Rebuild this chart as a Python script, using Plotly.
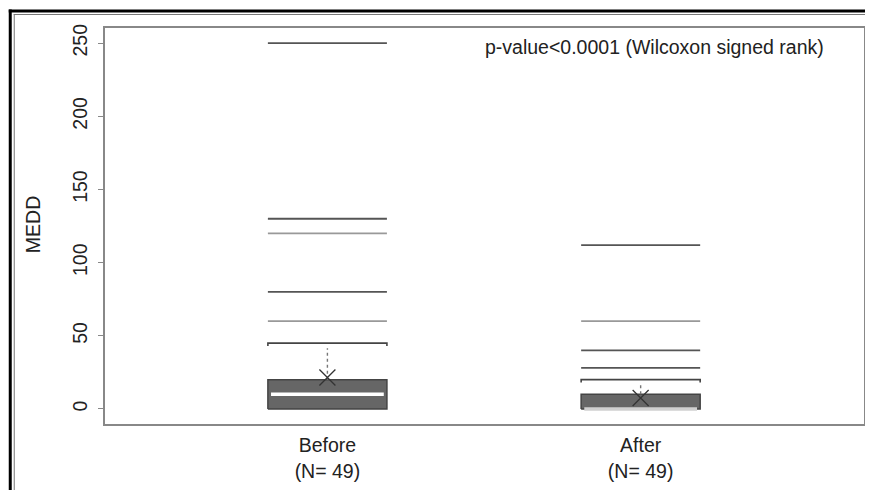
import plotly.graph_objects as go

# ---- data ----
groups = ["Before", "After"]
group_labels = ["Before<br>(N= 49)", "After<br>(N= 49)"]
positions = [1, 2]
q1 = [0, 0]
median = [10, 0]
q3 = [20, 10]
whisker_hi = [45, 20]
mean = [21.5, 7.5]
outliers_dark = [[250, 130, 80], [112, 40, 28]]
outliers_light = [[120, 60], [60]]
y_ticks = [0, 50, 100, 150, 200, 250]
annotation_text = "p-value<0.0001 (Wilcoxon signed rank)"

# ---- layout geometry (page has an 8px body margin) ----
OFF = 8
W, H = 873 - OFF, 490 - OFF
ML, MR, MT, MB = 105 - OFF, 7, 28 - OFF, 66
PW, PH = W - ML - MR, H - MT - MB
half = 0.19
FONT = "Liberation Sans, Arial, sans-serif"

def px_x(px):
    return (px - OFF - ML) / PW

def px_y(py):
    return (H - MB - (py - OFF)) / PH

fig = go.Figure()

for i, c in enumerate(positions):
    # box
    fig.add_trace(go.Scatter(
        x=[c - half, c + half, c + half, c - half, c - half],
        y=[q1[i], q1[i], q3[i], q3[i], q1[i]],
        mode="lines", fill="toself", fillcolor="#666666",
        line=dict(color="#444444", width=1.5), hoverinfo="skip", showlegend=False))
    # median
    fig.add_trace(go.Scatter(
        x=[c - half + 0.01, c + half - 0.01], y=[median[i], median[i]],
        mode="lines", line=dict(color="#ffffff" if median[i] > q1[i] else "#d0d0d0", width=3.5),
        hoverinfo="skip", showlegend=False))
    # dotted whisker
    fig.add_trace(go.Scatter(
        x=[c, c], y=[q3[i], whisker_hi[i] - 3.5],
        mode="lines", line=dict(color="#777777", width=1.4, dash="dot"),
        hoverinfo="skip", showlegend=False))
    # whisker cap bracket
    fig.add_trace(go.Scatter(
        x=[c - half, c - half, c + half, c + half],
        y=[whisker_hi[i] - 2, whisker_hi[i], whisker_hi[i], whisker_hi[i] - 2],
        mode="lines", line=dict(color="#444444", width=1.6),
        hoverinfo="skip", showlegend=False))
    # outliers as lines
    for vals, col, wd in ((outliers_dark[i], "#555555", 1.8), (outliers_light[i], "#999999", 1.6)):
        xs, ys = [], []
        for v in vals:
            xs += [c - half, c + half, None]
            ys += [v, v, None]
        fig.add_trace(go.Scatter(x=xs, y=ys, mode="lines",
                                 line=dict(color=col, width=wd),
                                 hoverinfo="skip", showlegend=False))
    # mean
    fig.add_trace(go.Scatter(
        x=[c], y=[mean[i]], mode="markers",
        marker=dict(symbol="x-thin-open", size=16, color="#333333",
                    line=dict(color="#333333", width=1.3)),
        hoverinfo="skip", showlegend=False))

fig.add_annotation(text=annotation_text, xref="paper", yref="paper",
                   x=px_x(656), y=px_y(47), xanchor="center", yanchor="middle",
                   showarrow=False, font=dict(family=FONT, size=19.5, color="#222222"))
fig.add_annotation(text="MEDD", xref="paper", yref="paper",
                   x=px_x(33), y=px_y(225), xanchor="center", yanchor="middle",
                   textangle=-90, showarrow=False,
                   font=dict(family=FONT, size=19.5, color="#222222"))

# outer frame (top & left double line)
fig.add_shape(type="line", xref="paper", yref="paper",
              x0=px_x(8.5), x1=px_x(880), y0=px_y(11), y1=px_y(11),
              line=dict(color="#000000", width=3))
fig.add_shape(type="line", xref="paper", yref="paper",
              x0=px_x(13.5), x1=px_x(880), y0=px_y(14.5), y1=px_y(14.5),
              line=dict(color="#777777", width=1))
fig.add_shape(type="line", xref="paper", yref="paper",
              x0=px_x(10), x1=px_x(10), y0=px_y(9.5), y1=px_y(500),
              line=dict(color="#000000", width=3))
fig.add_shape(type="line", xref="paper", yref="paper",
              x0=px_x(14), x1=px_x(14), y0=px_y(14), y1=px_y(500),
              line=dict(color="#777777", width=1))

fig.update_layout(
    width=W, height=H,
    margin=dict(l=ML, r=MR, t=MT, b=MB),
    paper_bgcolor="white", plot_bgcolor="white",
    font=dict(family=FONT, size=19.5, color="#222222"),
    showlegend=False,
    xaxis=dict(range=[0.29, 2.713], tickvals=positions, ticktext=group_labels,
               showgrid=False, zeroline=False, showline=True, mirror=True,
               linecolor="#888888", linewidth=2, ticks="", ticklabelstandoff=3),
    yaxis=dict(range=[-10.3, 260.4], tickvals=y_ticks, tickangle=-90,
               showgrid=False, zeroline=False, showline=True, mirror=True,
               linecolor="#888888", linewidth=2, ticks="outside", ticklen=5,
               tickcolor="#888888", tickwidth=1, ticklabelstandoff=3),
)

fig.write_html("out.html")
